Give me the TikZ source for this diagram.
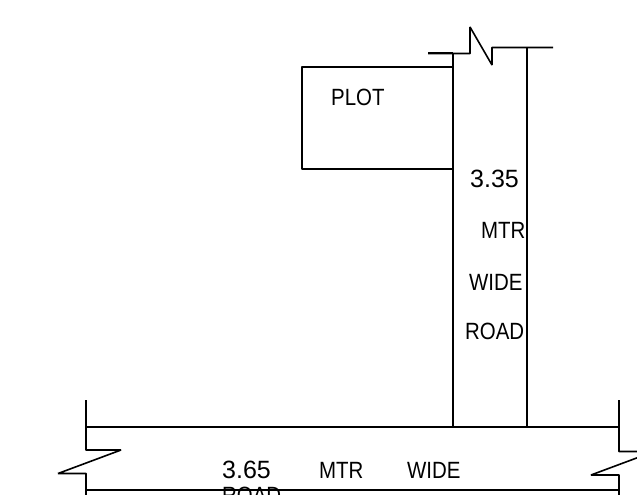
\documentclass[tikz,border=0pt]{standalone}
\usepackage{fontspec}
\setmainfont{Liberation Sans}
\tikzset{
  wall/.style={draw=black,line width=1.6pt,line join=bevel},
  lbl/.style={inner sep=0pt,text=black,font=\fontsize{23.5}{23.5}\selectfont,xscale=0.87,anchor=base west},
  num/.style={inner sep=0pt,text=black,font=\fontsize{25}{25}\selectfont,anchor=base west},
}
\begin{document}
\begin{tikzpicture}[x=1pt,y=-1pt]
\useasboundingbox (0,0) rectangle (637,495);
\clip (0,0) rectangle (637,495);
\fill[white] (0,0) rectangle (637,495);
% plot
\draw[wall] (453,67) -- (302,67) -- (302,169) -- (453,169);
% lane
\draw[wall] (428,53.5) -- (470,53.5) -- (470,27) -- (492,65) -- (492,47.5) -- (553,47.5);
\draw[wall] (428,53) -- (453,53);
\draw[wall] (453,53) -- (453,427);
\draw[wall] (527,47.5) -- (527,427);
% road
\draw[wall] (86,427) -- (619,427);
\draw[wall] (86,400) -- (86,450) -- (121,450) -- (58,473.5) -- (86,473.5) -- (86,495);
\draw[wall] (619,400) -- (619,451.5) -- (654,451.5) -- (591,475) -- (619,475) -- (619,495);
\draw[wall] (86,490) -- (619,490);
% labels
\node[lbl] (plot) at (331,105.5) {PLOT};
\node[num] (n335) at (470,187.5) {3.35};
\node[lbl] (mtr1) at (481,238) {MTR};
\node[lbl] (wide1) at (469,290) {WIDE};
\node[lbl] (road1) at (465,339) {ROAD};
\node[num] (n365) at (222,478.5) {3.65};
\node[lbl] (mtr2) at (319,478) {MTR};
\node[lbl] (wide2) at (407,478) {WIDE};
\node[lbl] (road2) at (222,503.5) {ROAD};
\end{tikzpicture}
\end{document}
